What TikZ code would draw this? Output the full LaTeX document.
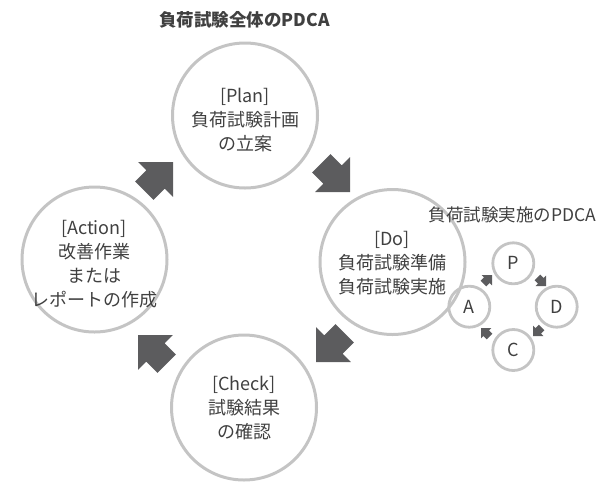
\documentclass[tikz,border=0pt]{standalone}
\usepackage{fontspec}
\setmainfont{Noto Sans CJK JP}
\definecolor{circgray}{HTML}{C4C4C4}
\definecolor{arrowgray}{HTML}{5C5C5E}
\definecolor{txtcol}{HTML}{404040}
\tikzset{
  bigcircle/.style={circle, draw=circgray, line width=3pt, minimum size=145pt, inner sep=0pt},
  smallcircle/.style={circle, draw=circgray, line width=2.8pt, minimum size=41pt, inner sep=0pt,
    text=txtcol, font=\fontsize{18}{20}\selectfont},
  txt/.style={align=center, text=txtcol, inner sep=0pt, font=\fontsize{18}{24}\selectfont},
  title/.style={text=txtcol, inner sep=0pt, font=\fontsize{17.5}{20}\selectfont},
  blockarrow/.pic={\fill[arrowgray] (0,0) -- (-24.7,24.7) -- (-24.7,13) -- (-40.5,13) -- (-40.5,-13) -- (-24.7,-13) -- (-24.7,-24.7) -- cycle;},
}
\begin{document}
\begin{tikzpicture}[x=1pt,y=-1pt]
\useasboundingbox (0,0) rectangle (602,483);
% big circles
\node[bigcircle] (plan) at (245,115.5) {};
\node[bigcircle] (do) at (392.5,262) {};
\node[bigcircle] (check) at (244,407.5) {};
\node[bigcircle] (action) at (94.5,259.5) {};
% texts
\node[txt] (plantxt) at (245,120) {[Plan]\\負荷試験計画\\の立案};
\node[txt] (dotxt) at (392,263) {[Do]\\負荷試験準備\\負荷試験実施};
\node[txt] (checktxt) at (244,408) {[Check]\\試験結果\\の確認};
\node[txt] (actiontxt) at (94,264) {[Action]\\改善作業\\または\\レポートの作成};
% titles
\node[title, font=\fontsize{17.5}{20}\selectfont\bfseries] (title1) at (244.5,20) {負荷試験全体のPDCA};
\node[title] (title2) at (512.5,215) {負荷試験実施のPDCA};
% big arrows
\pic (a1) at (173,162) [rotate=45] {blockarrow};
\pic (a2) at (350,192) [rotate=-45] {blockarrow};
\pic (a3) at (316,362) [rotate=-135] {blockarrow};
\pic (a4) at (138,335) [rotate=135] {blockarrow};
% small circles
\node[smallcircle] (sp) at (513.3,263.3) {P};
\node[smallcircle] (sd) at (556.7,306.7) {D};
\node[smallcircle] (sc) at (513.3,350) {C};
\node[smallcircle] (sa) at (469.3,306.7) {A};
% small arrows
\pic (b1) at (492,275) [rotate=45, scale=0.3] {blockarrow};
\pic (b2) at (546,286) [rotate=-45, scale=0.3] {blockarrow};
\pic (b3) at (533,336) [rotate=-135, scale=0.3] {blockarrow};
\pic (b4) at (481,328) [rotate=135, scale=0.3] {blockarrow};
\end{tikzpicture}
\end{document}
